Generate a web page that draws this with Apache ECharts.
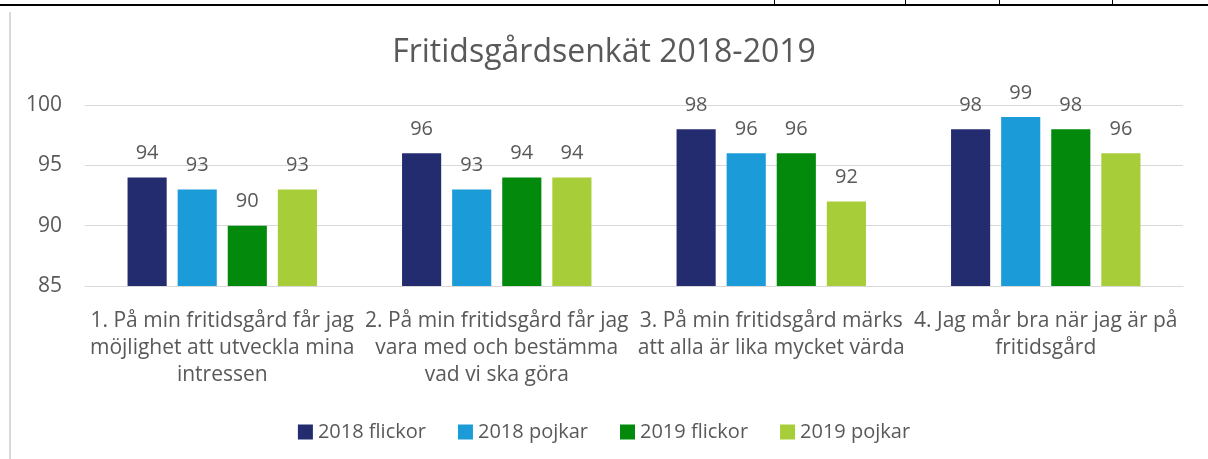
<!DOCTYPE html>
<html>
<head>
<meta charset="utf-8">
<script src="https://cdn.jsdelivr.net/npm/echarts@6/dist/echarts.min.js"></script>
<style>
  html, body { margin: 0; padding: 0; background: #fff; }
  #chart { width: 1208px; height: 459px; }
</style>
</head>
<body>
<div id="chart"></div>
<script>
// categories and series
var categories = [
	'1. På min fritidsgård får jag\nmöjlighet att utveckla mina\nintressen',
	'2. På min fritidsgård får jag\nvara med och bestämma\nvad vi ska göra',
	'3. På min fritidsgård märks\natt alla är lika mycket värda',
	'4. Jag mår bra när jag är på\nfritidsgård'
];
var seriesNames = ['2018 flickor', '2018 pojkar', '2019 flickor', '2019 pojkar'];
var flickor2018 = [94, 96, 98, 98];
var pojkar2018 = [93, 93, 96, 99];
var flickor2019 = [90, 94, 96, 98];
var pojkar2019 = [93, 94, 92, 96];
var colors = ['#232C6E', '#1B9CD8', '#038A0D', '#A7CD38'];

var font = '"Open Sans", "Noto Sans", sans-serif';
var textColor = '#595959';

function chart () {
	var chart = echarts.init(document.getElementById('chart'));
	var data = [flickor2018, pojkar2018, flickor2019, pojkar2019];
	var series = [];
	for (var i = 0; i < data.length; i++) {
		series.push({
			name: seriesNames[i],
			type: 'bar',
			barGap: '28%',
			barCategoryGap: '31%',
			itemStyle: { color: colors[i] },
			label: {
				show: true,
				position: 'top',
				distance: 14,
				color: textColor,
				fontFamily: font,
				fontSize: 20
			},
			data: data[i]
		});
	}
	var option = {
		backgroundColor: '#fff',
		animation: false,
		title: {
			text: 'Fritidsgårdsenkät 2018-2019',
			left: 'center',
			top: 32,
			textStyle: {
				color: textColor,
				fontFamily: font,
				fontWeight: 'normal',
				fontSize: 32
			}
		},
		legend: {
			data: seriesNames,
			top: 417,
			left: 'center',
			itemWidth: 15,
			itemHeight: 15,
			itemGap: 32,
			icon: 'rect',
			textStyle: {
				color: textColor,
				fontFamily: font,
				fontSize: 20
			}
		},
		grid: {
			left: 85,
			right: 25,
			top: 105,
			bottom: 173
		},
		xAxis: {
			type: 'category',
			data: categories,
			axisTick: { show: false },
			axisLine: { lineStyle: { color: '#d9d9d9', width: 1 } },
			axisLabel: {
				color: textColor,
				fontFamily: font,
				fontSize: 21,
				lineHeight: 27,
				margin: 22,
				interval: 0
			}
		},
		yAxis: {
			type: 'value',
			min: 85,
			max: 100,
			interval: 5,
			axisLine: { show: false },
			axisTick: { show: false },
			axisLabel: {
				color: textColor,
				fontFamily: font,
				fontSize: 21,
				margin: 23
			},
			splitLine: { lineStyle: { color: '#d9d9d9', width: 1 } }
		},
		graphic: [
			{ type: 'rect', shape: { x: 0, y: 4, width: 1208, height: 2 }, style: { fill: '#000' } },
			{ type: 'rect', shape: { x: 774, y: 0, width: 1, height: 5 }, style: { fill: '#000' } },
			{ type: 'rect', shape: { x: 905, y: 0, width: 1, height: 5 }, style: { fill: '#000' } },
			{ type: 'rect', shape: { x: 999, y: 0, width: 1, height: 5 }, style: { fill: '#000' } },
			{ type: 'rect', shape: { x: 1112, y: 0, width: 1, height: 5 }, style: { fill: '#000' } },
			{ type: 'rect', shape: { x: 9, y: 12, width: 2, height: 447 }, style: { fill: '#d9d9d9' } }
		],
		series: series
	};
	chart.setOption(option);
}
chart();
</script>
</body>
</html>
